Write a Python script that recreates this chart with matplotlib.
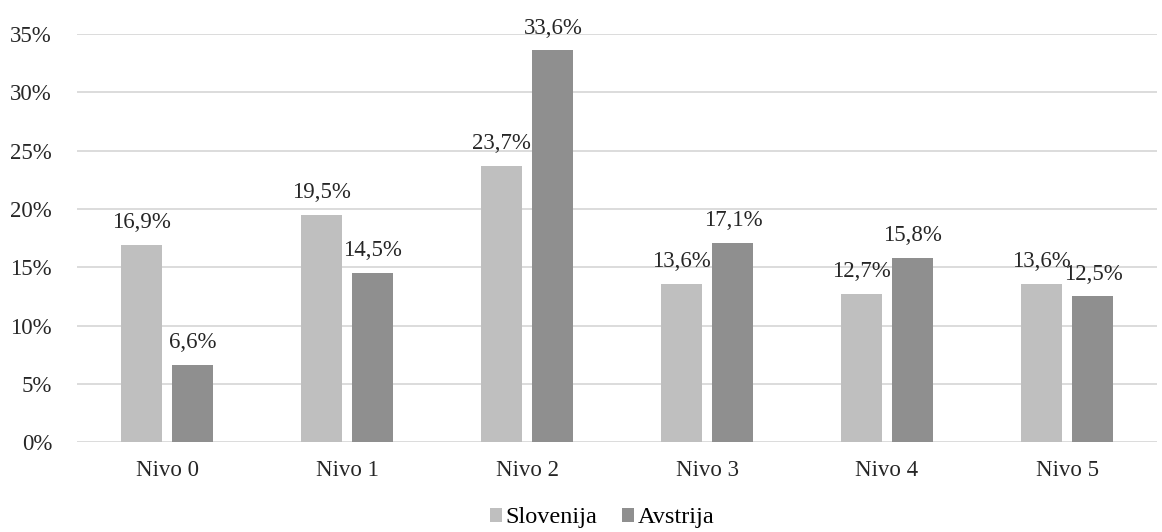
import numpy as np
import matplotlib.pyplot as plt

categories = ['Nivo 0', 'Nivo 1', 'Nivo 2', 'Nivo 3', 'Nivo 4', 'Nivo 5']
slovenija = [16.9, 19.5, 23.7, 13.6, 12.7, 13.6]
avstrija = [6.6, 14.5, 33.6, 17.1, 15.8, 12.5]
yticks = [0, 5, 10, 15, 20, 25, 30, 35]


def fmt(v):
	return ('%.1f%%' % v).replace('.', ',')


def main():
	plt.rcParams['font.family'] = ['Liberation Serif', 'DejaVu Serif']
	plt.rcParams['font.size'] = 16.5

	fig = plt.figure(figsize=(11.62, 5.32), dpi=100)
	ax = fig.add_axes([0.0663, 0.169, 0.9294, 0.767])

	x = np.arange(len(categories))
	w = 0.228
	off = 0.144
	b1 = ax.bar(x - off, slovenija, w, color='#BFBFBF', label='Slovenija', zorder=3)
	b2 = ax.bar(x + off, avstrija, w, color='#8F8F8F', label='Avstrija', zorder=3)

	# value labels sit ~17px above each bar (baseline)
	for bars, vals in ((b1, slovenija), (b2, avstrija)):
		for r, v in zip(bars, vals):
			ax.annotate(fmt(v), (r.get_x() + r.get_width() / 2, v),
						xytext=(0, 12), textcoords='offset points',
						ha='center', va='baseline', color='#262626')

	ax.set_xlim(-0.5, len(categories) - 0.5)
	ax.set_ylim(0, 35)
	ax.set_yticks(yticks)
	ax.set_yticklabels(['%d%%' % t for t in yticks])
	ax.set_xticks(x)
	ax.set_xticklabels(categories)
	ax.grid(axis='y', color='#D9D9D9', linewidth=1.3, zorder=0)
	for s in ax.spines.values():
		s.set_visible(False)
	ax.tick_params(length=0, colors='#262626', labelcolor='#262626')
	ax.tick_params(axis='x', pad=13)
	ax.tick_params(axis='y', pad=18)

	fig.legend(loc='lower center', bbox_to_anchor=(0.518, -0.034), ncol=2,
			   frameon=False, handlelength=0.5, handleheight=0.5,
			   handletextpad=0.15, columnspacing=1.0, fontsize=17.5)

	fig.savefig('out.png', dpi=100)


if __name__ == '__main__':
	main()
